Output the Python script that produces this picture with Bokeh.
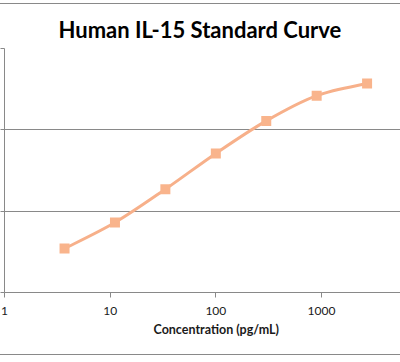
import numpy as np
from bokeh.plotting import figure
from bokeh.models import Range1d, FixedTicker, Title
from bokeh.embed import file_html
from bokeh.resources import INLINE
from bokeh.core.properties import value

# Data
concentration = [3.7, 11.1, 33.3, 100, 300, 900, 2700]
response = [0.54, 0.86, 1.27, 1.71, 2.11, 2.42, 2.57]
x_ticks = [1, 10, 100, 1000]
x_tick_labels = ["1", "10", "100", "1000"]
y_ticks = [0, 1, 2, 3]

FONT = "Lato"
LINE_COL = "#F7B08A"
MARK_COL = "#F9B48C"
GRID_COL = "#898989"

p = figure(width=400, height=350, x_axis_type="log",
           x_range=Range1d(1, 5592), y_range=Range1d(0, 3),
           output_backend="svg", toolbar_location=None,
           min_border_left=0, min_border_right=0,
           min_border_top=44, min_border_bottom=62)
p.styles = {"margin-top": "4px",
            "outline": f"1px solid {GRID_COL}"}
p.outline_line_color = None
p.background_fill_color = "white"
p.border_fill_color = "white"

# title
p.title.text = "Human IL-15 Standard Curve"
p.title.align = "left"
p.title.text_font = FONT
p.title.text_font_size = "22px"
p.title.text_font_style = "bold"
p.title.text_color = "black"
p.title.offset = 54
p.title.standoff = 12

# x axis
xa = p.xaxis[0]
xa.ticker = FixedTicker(ticks=x_ticks)
xa.major_label_overrides = {t: s for t, s in zip(x_ticks, x_tick_labels)}
xa.major_label_text_font = FONT
xa.major_label_text_font_size = "12px"
xa.major_label_text_color = "#1a1a1a"
xa.major_label_standoff = 9
xa.major_tick_out = 5
xa.major_tick_in = 0
xa.minor_tick_out = 0
xa.minor_tick_in = 0
xa.axis_line_color = GRID_COL
xa.major_tick_line_color = GRID_COL

# y axis (its labels lie outside the visible area in the reference)
ya = p.yaxis[0]
ya.ticker = FixedTicker(ticks=y_ticks)
ya.major_label_overrides = {t: "" for t in y_ticks}
ya.major_label_standoff = 0
ya.major_tick_out = 4
ya.major_tick_in = 0
ya.minor_tick_out = 0
ya.minor_tick_in = 0
ya.axis_line_color = GRID_COL
ya.major_tick_line_color = GRID_COL

p.xgrid.visible = False
p.ygrid.ticker = FixedTicker(ticks=y_ticks)
p.ygrid.grid_line_color = GRID_COL
p.ygrid.grid_line_width = 1

# x axis title
xt = Title(text="Concentration (pg/mL)", align="left", offset=149,
           text_font=FONT, text_font_size="12.5px", text_font_style="bold",
           text_color="#1a1a1a", standoff=5)
p.add_layout(xt, "below")

# smoothed line (Catmull-Rom -> cubic Bezier, in log-x space)
lx = np.log10(np.array(concentration, dtype=float))
yy = np.array(response, dtype=float)
n = len(lx)
x0, y0, x1, y1, cx0, cy0, cx1, cy1 = ([] for _ in range(8))
for i in range(n - 1):
    ip = max(i - 1, 0)
    inx = min(i + 2, n - 1)
    c1x = lx[i] + (lx[i + 1] - lx[ip]) / 6
    c1y = yy[i] + (yy[i + 1] - yy[ip]) / 6
    c2x = lx[i + 1] - (lx[inx] - lx[i]) / 6
    c2y = yy[i + 1] - (yy[inx] - yy[i]) / 6
    x0.append(10 ** lx[i]); y0.append(yy[i])
    x1.append(10 ** lx[i + 1]); y1.append(yy[i + 1])
    cx0.append(10 ** c1x); cy0.append(c1y)
    cx1.append(10 ** c2x); cy1.append(c2y)

p.bezier(x0=x0, y0=y0, x1=x1, y1=y1, cx0=cx0, cy0=cy0, cx1=cx1, cy1=cy1,
         line_color=LINE_COL, line_width=3)
p.scatter(concentration, response, marker="square", size=10,
          fill_color=MARK_COL, line_color=None)

open("out.html", "w").write(file_html(p, INLINE))
